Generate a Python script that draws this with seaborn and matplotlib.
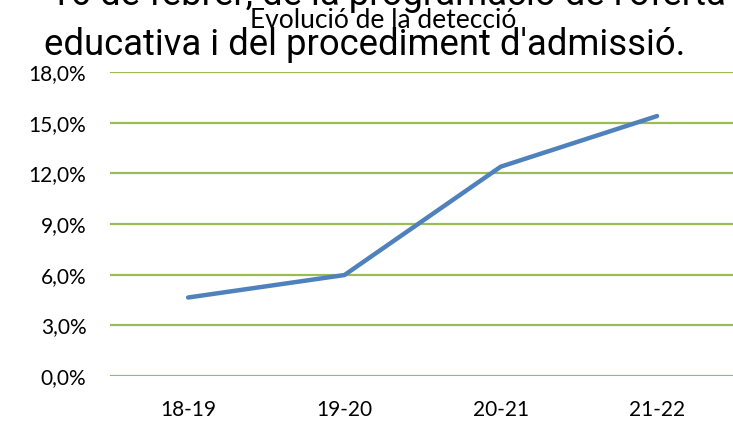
import matplotlib
matplotlib.use("Agg")
import matplotlib.pyplot as plt
import seaborn as sns
import pandas as pd
from matplotlib.ticker import FuncFormatter

cursos = ["18-19", "19-20", "20-21", "21-22"]
percentatge = [4.65, 5.98, 12.4, 15.4]
yticks = [0, 3, 6, 9, 12, 15, 18]

df = pd.DataFrame({"curs": cursos, "pct": percentatge})
df["x"] = range(len(cursos))

sns.set_style("white")
plt.rcParams["font.family"] = ["Lato", "DejaVu Sans"]

fig = plt.figure(figsize=(7.33, 4.22), dpi=100)
ax = fig.add_axes([0.150, 0.109, 0.853, 0.720])

sns.lineplot(data=df, x="x", y="pct", color="#4F81BD", linewidth=3.2, ax=ax)

ax.set_xlim(-0.5, 3.5)
ax.set_ylim(0, 18)
ax.set_yticks(yticks)
ax.yaxis.set_major_formatter(FuncFormatter(lambda v, p: f"{v:.1f}%".replace(".", ",")))
ax.set_xticks(df["x"])
ax.set_xticklabels(cursos)
for y in yticks:
    ax.axhline(y, color="#9BBB59", linewidth=1.6, zorder=0)
for s in ax.spines.values():
    s.set_visible(False)
ax.tick_params(axis="both", length=0, labelsize=15, colors="black")
ax.tick_params(axis="x", pad=17)
ax.tick_params(axis="y", pad=17)
ax.set_xlabel("")
ax.set_ylabel("")

# titol superposat
fig.text(50 / 733, 1 - 5 / 422, "16 de febrer, de la programació de l'oferta",
         ha="left", va="baseline", fontsize=26.3, color="black",
         family=["Roboto", "DejaVu Sans"])
fig.text(0.5225, 1 - 28 / 422, "Evolució de la detecció",
         ha="center", va="baseline", fontsize=19, color="black",
         family=["Lato", "DejaVu Sans"])
fig.text(0.497, 1 - 55 / 422, "educativa i del procediment d'admissió.",
         ha="center", va="baseline", fontsize=26.3, color="black",
         family=["Roboto", "DejaVu Sans"])

fig.savefig("out.png", dpi=100)
